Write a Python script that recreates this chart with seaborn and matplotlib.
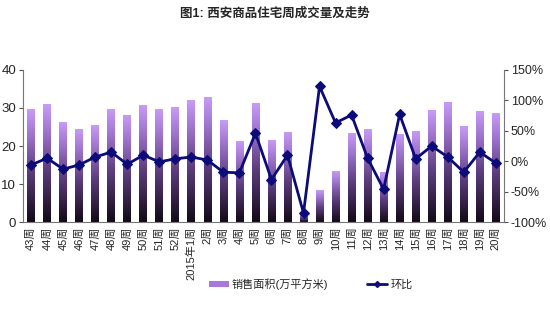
import numpy as np
import pandas as pd
import matplotlib
matplotlib.use("Agg")
import matplotlib.pyplot as plt
import seaborn as sns
from matplotlib.colors import LinearSegmentedColormap
from matplotlib.patches import Patch
from matplotlib.lines import Line2D

sns.set_style("white")
plt.rcParams['font.family'] = ['Liberation Sans', 'Noto Sans CJK SC', 'DejaVu Sans']

weeks = ["43周", "44周", "45周", "46周", "47周", "48周", "49周", "50周", "51周", "52周",
         "2015年1周", "2周", "3周", "4周", "5周", "6周", "7周", "8周", "9周", "10周",
         "11周", "12周", "13周", "14周", "15周", "16周", "17周", "18周", "19周", "20周"]
area = [29.7, 31.0, 26.3, 24.5, 25.5, 29.7, 28.2, 30.8, 29.7, 30.3,
        32.1, 32.9, 26.8, 21.3, 31.3, 21.6, 23.7, 2.2, 8.4, 13.4,
        23.4, 24.5, 13.2, 23.2, 24.0, 29.5, 31.6, 25.3, 29.2, 28.7]
hb = [-6, 5, -13, -6, 7, 15, -5, 10, -1, 4,
      7, 2, -18, -19, 46, -30, 10, -85, 123, 63,
      76, 5, -46, 77, 4, 25, 7, -18, 15, -3]

df = pd.DataFrame({"week": weeks, "area": area, "hb": hb})

fig = plt.figure(figsize=(5.5, 3.12), dpi=100)
ax = fig.add_axes([0.042, 0.288, 0.874, 0.488])

sns.barplot(data=df, x="week", y="area", ax=ax, width=0.48, color="#b98ae8",
            edgecolor="none")

cmap = LinearSegmentedColormap.from_list(
    "g", [(0.0, "#120a18"), (0.45, "#5e3d80"), (0.8, "#a57ad6"), (1.0, "#c99cf7")])
grad = np.linspace(0, 1, 256).reshape(-1, 1)
for p in ax.patches:
    x0, y0 = p.get_x(), p.get_y()
    w, h = p.get_width(), p.get_height()
    if h <= 0:
        continue
    im = ax.imshow(grad, cmap=cmap, aspect="auto", origin="lower",
                   extent=[x0, x0 + w, y0, y0 + h], zorder=2)
    im.set_clip_path(p)
    p.set_facecolor("none")
ax.set_xlim(-0.5, len(weeks) - 0.5)
ax.set_ylim(0, 40)

ax2 = ax.twinx()
sns.lineplot(x=np.arange(len(weeks)), y=df["hb"], ax=ax2, color="#0b0b7a",
             linewidth=2.0, marker="D", markersize=5, markeredgecolor="#0b0b7a")
ax2.set_ylim(-100, 150)
ax2.set_yticks([-100, -50, 0, 50, 100, 150])
ax2.set_yticklabels([f"{v}%" for v in [-100, -50, 0, 50, 100, 150]])
ax2.set_xlim(-0.5, len(weeks) - 0.5)
ax2.set_ylabel("")

ax.set_yticks([0, 10, 20, 30, 40])
ax.set_xlabel("")
ax.set_ylabel("")
ax.set_xticks(np.arange(len(weeks)))
ax.set_xticklabels(weeks, rotation=90, fontsize=8)
ax.set_xticks(np.arange(len(weeks)) + 0.5, minor=True)
ax.tick_params(axis="x", which="major", length=0, pad=3)
ax.tick_params(axis="x", which="minor", length=3, direction="in", color="#555555")
ax.tick_params(axis="y", which="major", length=3, direction="out", labelsize=9.5, pad=2, color="#555555")
ax2.tick_params(axis="y", which="major", length=3, direction="out", labelsize=9, pad=2, color="#555555")

for a in (ax, ax2):
    a.spines["top"].set_visible(False)
    for s in ("left", "right", "bottom"):
        a.spines[s].set_color("#777777")
        a.spines[s].set_linewidth(0.8)
ax.spines["right"].set_visible(False)
ax2.spines["left"].set_visible(False)
ax2.spines["bottom"].set_visible(False)

fig.text(0.5, 0.955, "图1: 西安商品住宅周成交量及走势", ha="center", va="center",
         fontsize=9, fontweight="bold")

handles = [Patch(facecolor="#a878dc", edgecolor="none"),
           Line2D([0], [0], color="#0b0b7a", linewidth=2, marker="D", markersize=3)]
fig.legend(handles, ["销售面积(万平方米)", "环比"], loc="center",
           bbox_to_anchor=(0.565, 0.09), ncol=2, frameon=False, fontsize=8,
           handlelength=1.8, handleheight=0.5, columnspacing=3.5, handletextpad=0.3)

fig.savefig("out.png", dpi=100)
